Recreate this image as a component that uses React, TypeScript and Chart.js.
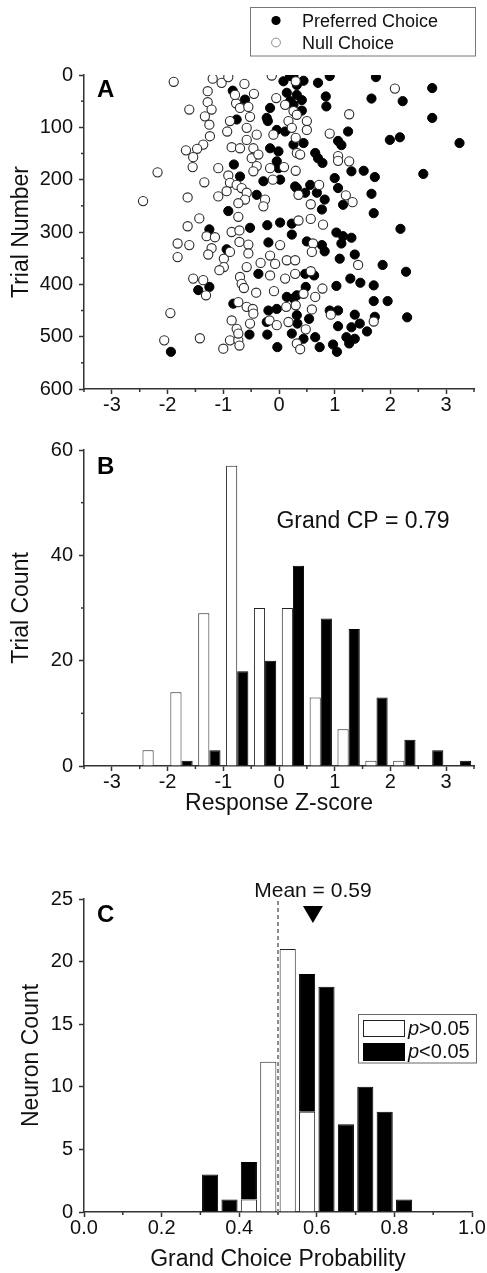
import React, { useEffect, useRef } from 'react';
import { Chart, registerables } from 'chart.js';

Chart.register(...registerables);

const FONT = "'Liberation Sans', Arial, Helvetica, sans-serif";
const AXIS = '#333';
const INK = '#111';

// ---------- Panel A: trial-by-trial z-scores ----------
const prefZ = [
  -0.83, -0.61, -0.76, -0.81, -0.70, -0.40, -0.91, 0.08, 0.20, 0.32, 0.14, 0.32, 0.20, -0.16, -0.22, -0.20, -0.04, 0.11, 0.26, -0.16,
  -0.01, -0.04, -0.01, -0.28, 0.02, 0.29, 0.26, 0.41, 0.44, 0.70, 0.91, 1.74, 1.66, 0.84, 0.85, 2.22, 2.75, 2.75, 1.24, 1.06,
  1.12, 1.99, 2.17, 3.24, 0.65, 0.70, 0.78, 1.30, 1.52, 1.72, 2.59, 1.00, 1.06, 1.66, 1.15, 1.70, 0.68, 0.82, 0.77, 0.56,
  0.32, 0.47, 0.44, 0.26, 0.41, -1.25, -0.94, -1.45, -1.25, -1.94, -0.82, -0.37, -0.19, -0.04, -0.22, -0.53, -0.21, -0.03, -0.52, -0.21,
  -0.19, 0.02, 0.23, 0.23, 0.14, 0.32, 0.23, 0.32, 2.18, 1.03, 1.15, 1.30, 1.12, 0.50, 0.77, 0.82, 1.09, 1.36, 1.86, 2.28,
  1.28, 1.46, 1.70, 1.03, 1.70, 1.95, 2.30, 1.36, 1.45, 1.30, 1.72, 1.06, 0.91, 1.06, 1.58, 1.21, 1.36, 1.26, 0.97, 1.04,
  0.73, 0.54, 0.44, 0.65, 0.33, 0.47, 0.63, 0.48, 0.26,
];
const prefTrial = [
  30, 47, 85, 171, 194, 229, 260, 12, 2, 19, 34, 38, 50, 63, 82, 88, 105, 108, 133, 140,
  146, 165, 178, 203, 200, 213, 1, 48, 11, 15, 2, 4, 45, 41, 60, 50, 25, 82, 108, 126,
  134, 124, 119, 130, 149, 159, 168, 184, 183, 195, 189, 197, 216, 227, 248, 264, 225, 238, 257, 210,
  216, 225, 130, 57, 68, 295, 333, 411, 405, 529, 437, 380, 450, 447, 472, 496, 496, 520, 292, 287,
  320, 282, 305, 284, 424, 421, 494, 459, 294, 301, 308, 311, 322, 318, 325, 337, 351, 343, 363, 376,
  389, 397, 402, 403, 432, 432, 463, 458, 475, 482, 462, 480, 450, 450, 490, 501, 504, 513, 515, 529,
  520, 466, 504, 501, 475, 380, 383, 405, 427,
];
const nullZ = [
  -1.89, -1.61, -2.18, -2.44, -1.64, -1.34, -1.19, -1.03, -0.91, -1.28, -1.28, -1.21, -1.33, -1.25, -1.24, -1.36, -1.47, -1.67, -1.54, -1.55,
  -0.62, -0.77, -0.70, -0.45, -0.88, -0.93, -0.58, -0.40, -0.58, -0.85, -0.70, -0.46, -0.49, -0.37, -0.40, -0.46, -1.09, -0.91, -0.88, -1.09,
  -0.94, -0.76, -0.67, -0.58, -0.61, -0.73, -0.25, -0.28, -0.10, -0.05, -0.13, 0.30, 0.11, 0.26, 0.32, 0.17, 0.23, 0.30, 0.32, -0.16,
  0.09, -0.11, 0.30, -1.43, 2.08, 1.26, 0.91, 1.06, 1.06, 1.26, 0.72, 0.35, 1.20, 1.32, 0.57, 0.38, 0.50, 0.50, -0.79, -0.55, -0.52,
  -1.64, -1.82, -1.61, -1.82, -1.30, -1.15, -1.21, -1.27, -1.54, -1.36, -1.31, -1.95, -2.06, -1.42, -1.00, -0.88, -0.73, -0.71, -0.85, -0.76,
  -0.73, -0.99, -0.99, -1.07, -0.88, -0.85, -0.71, -0.71, -0.73, -0.55, -0.55, -0.58, -0.70, -0.67, -0.63, -0.41, -0.73, -0.58, -0.47, -0.46,
  -0.52, -0.33, -0.16, -0.07, -0.16, 0.02, -0.09, 0.11, 0.14, 0.29, 0.29, 0.13, -0.17, -0.04, 0.17, 0.32, 0.38,
  0.35, 0.57, 0.79, 0.61, 0.59, 1.42, 0.57, 0.78, 0.65, 0.44, 0.30, 0.59, 0.93, 1.70, 0.48,
];
const nullTrial = [
  13, 66, 186, 241, 234, 205, 7, 15, 4, 31, 52, 66, 79, 95, 117, 133, 141, 144, 157, 176,
  17, 54, 63, 36, 88, 108, 101, 114, 124, 138, 140, 140, 159, 152, 174, 184, 178, 192, 206, 232,
  222, 210, 216, 225, 238, 245, 238, 251, 114, 44, 1, 12, 57, 69, 76, 88, 101, 120, 149, 178,
  176, 200, 183, 274, 26, 75, 112, 155, 164, 165, 210, 229, 230, 243, 247, 152, 88, 105, 38, 61, 80,
  289, 322, 325, 348, 308, 310, 331, 343, 389, 392, 421, 455, 507, 503, 523, 507, 507, 517, 469, 485,
  494, 351, 367, 373, 338, 300, 297, 319, 271, 324, 341, 367, 386, 399, 407, 416, 434, 443, 447, 456,
  475, 359, 345, 361, 383, 325, 413, 389, 354, 354, 380, 443, 469, 478, 472, 513, 524,
  278, 275, 286, 322, 338, 363, 375, 408, 424, 418, 440, 448, 458, 471, 486,
];

// ---------- Panel B: histogram of response z-scores ----------
const zBinCenters = [-2.25, -1.75, -1.25, -0.75, -0.25, 0.25, 0.75, 1.25, 1.75, 2.25, 2.75, 3.25];
const nullCounts = [3, 14, 29, 57, 30, 30, 13, 7, 1, 1, 0, 0];
const prefCounts = [0, 1, 3, 18, 20, 38, 28, 26, 13, 5, 3, 1];
const grandCP = 0.79;

// ---------- Panel C: histogram of grand choice probabilities ----------
const cpBinCenters = [0.325, 0.375, 0.425, 0.475, 0.525, 0.575, 0.625, 0.675, 0.725, 0.775, 0.825];
const nonSigCounts = [0, 0, 1, 12, 21, 8, 0, 0, 0, 0, 0];
const sigCounts = [3, 1, 3, 0, 0, 11, 18, 7, 10, 8, 1];
const meanCP = 0.59;
const chanceCP = 0.5;

Chart.defaults.font.family = FONT;
Chart.defaults.color = INK;

type MajorFn = (v: number) => boolean;
const near = (v: number, step: number) => Math.abs(v / step - Math.round(v / step)) < 1e-6;

function minorTicksPlugin(majors: { x?: MajorFn; y?: MajorFn }) {
  return {
    id: 'minorTicks',
    afterDraw(chart: any) {
      const ctx = chart.ctx;
      (['x', 'y'] as const).forEach((id) => {
        const isMajor = majors[id];
        const s = chart.scales[id];
        if (!isMajor || !s) return;
        ctx.save();
        ctx.strokeStyle = AXIS;
        ctx.lineWidth = 1.5;
        s.ticks.forEach((t: any) => {
          if (isMajor(t.value)) return;
          const p = s.getPixelForValue(t.value);
          ctx.beginPath();
          if (s.isHorizontal()) {
            ctx.moveTo(p, s.top);
            ctx.lineTo(p, s.top + 3);
          } else {
            ctx.moveTo(s.right, p);
            ctx.lineTo(s.right - 3, p);
          }
          ctx.stroke();
        });
        ctx.restore();
      });
    },
  };
}

function overlay(draw: (chart: any, ctx: CanvasRenderingContext2D) => void) {
  return {
    id: 'overlay',
    afterDraw(chart: any) {
      const ctx = chart.ctx as CanvasRenderingContext2D;
      ctx.save();
      draw(chart, ctx);
      ctx.restore();
    },
  };
}

function axisBase(isMajor: MajorFn, tickPad: number) {
  return {
    border: { color: AXIS, width: 1.5 },
    grid: {
      drawOnChartArea: false,
      tickLength: 5,
      tickWidth: 1.5,
      tickColor: (c: any) => (c.tick && !isMajor(c.tick.value) ? 'rgba(0,0,0,0)' : AXIS),
    },
    ticks: {
      autoSkip: false,
      maxRotation: 0,
      padding: tickPad,
      color: INK,
      font: { size: 20, family: FONT, lineHeight: 1 },
    },
  };
}

const titleFont = { size: 23, family: FONT, lineHeight: 1.2 };

function configA(): any {
  const xMajor: MajorFn = (v) => near(v, 1);
  const yMajor: MajorFn = (v) => near(v, 100);
  const xb = axisBase(xMajor, 1);
  const yb = axisBase(yMajor, 6);
  return {
    type: 'scatter',
    data: {
      datasets: [
        {
          label: 'Preferred Choice',
          data: prefZ.map((z, i) => ({ x: z, y: prefTrial[i] })),
          backgroundColor: '#000',
          borderColor: '#000',
          borderWidth: 1,
          pointRadius: 4.6,
          order: 1,
        },
        {
          label: 'Null Choice',
          data: nullZ.map((z, i) => ({ x: z, y: nullTrial[i] })),
          backgroundColor: '#fff',
          borderColor: '#2a2a2a',
          borderWidth: 1.1,
          pointRadius: 4.6,
          order: 0,
        },
      ],
    },
    options: {
      animation: false,
      responsive: false,
      devicePixelRatio: 1,
      layout: { padding: { left: 0, right: 13, top: 75, bottom: 0 } },
      plugins: { legend: { display: false }, tooltip: { enabled: false } },
      scales: {
        x: {
          type: 'linear', min: -3.5, max: 3.5,
          afterFit: (s: any) => { s.height = 36; },
          ...xb,
          ticks: { ...xb.ticks, stepSize: 0.5, callback: (v: number) => (xMajor(v) ? String(Math.round(v)) : '') },
        },
        y: {
          type: 'linear', reverse: true, min: 0, max: 600,
          afterFit: (s: any) => { s.width = 84; },
          title: { display: true, text: 'Trial Number', color: INK, font: titleFont, padding: { top: 8, bottom: 0 } },
          ...yb,
          ticks: { ...yb.ticks, stepSize: 50, callback: (v: number) => (yMajor(v) ? String(Math.round(v)) : '') },
        },
      },
    },
    plugins: [
      minorTicksPlugin({ x: xMajor, y: yMajor }),
      overlay((chart, ctx) => {
        ctx.fillStyle = '#000';
        ctx.font = `bold 24px ${FONT}`;
        ctx.textAlign = 'left';
        ctx.textBaseline = 'alphabetic';
        ctx.fillText('A', 97, 97);
        // legend
        ctx.strokeStyle = '#777';
        ctx.lineWidth = 1;
        ctx.strokeRect(250.5, 7.5, 225, 48.5);
        const ds = chart.data.datasets;
        ctx.beginPath();
        ctx.arc(276, 20.5, 4.6, 0, Math.PI * 2);
        ctx.fillStyle = ds[0].backgroundColor;
        ctx.fill();
        ctx.beginPath();
        ctx.arc(276, 42.5, 4.4, 0, Math.PI * 2);
        ctx.fillStyle = '#fff';
        ctx.fill();
        ctx.strokeStyle = '#8a8a8a';
        ctx.lineWidth = 1;
        ctx.stroke();
        ctx.fillStyle = INK;
        ctx.font = `18px ${FONT}`;
        ctx.fillText(ds[0].label, 302, 26.8);
        ctx.fillText(ds[1].label, 302, 49.3);
      }),
    ],
  };
}

function configB(): any {
  const xMajor: MajorFn = (v) => near(v, 1);
  const yMajor: MajorFn = (v) => near(v, 20);
  const xb = axisBase(xMajor, 1);
  const yb = axisBase(yMajor, 6);
  return {
    type: 'bar',
    data: {
      datasets: [
        {
          label: 'Null Choice',
          data: zBinCenters.map((c, i) => ({ x: c, y: nullCounts[i] })),
          backgroundColor: '#fff',
          borderColor: '#222',
          borderWidth: 1,
          categoryPercentage: 0.8,
          barPercentage: 1,
        },
        {
          label: 'Preferred Choice',
          data: zBinCenters.map((c, i) => ({ x: c, y: prefCounts[i] })),
          backgroundColor: '#000',
          borderColor: '#000',
          borderWidth: 1,
          categoryPercentage: 0.8,
          barPercentage: 1,
        },
      ],
    },
    options: {
      animation: false,
      responsive: false,
      devicePixelRatio: 1,
      layout: { padding: { left: 0, right: 13, top: 25, bottom: 0 } },
      plugins: { legend: { display: false }, tooltip: { enabled: false } },
      scales: {
        x: {
          type: 'linear', min: -3.5, max: 3.5, offset: false,
          afterFit: (s: any) => { s.height = 69; },
          title: { display: true, text: 'Response Z-score', color: INK, font: titleFont, padding: { top: 0, bottom: 18 } },
          ...xb,
          grid: { ...xb.grid, offset: false },
          ticks: { ...xb.ticks, stepSize: 0.5, callback: (v: number) => (xMajor(v) ? String(Math.round(v)) : '') },
        },
        y: {
          type: 'linear', min: 0, max: 60,
          afterFit: (s: any) => { s.width = 84; },
          title: { display: true, text: 'Trial Count', color: INK, font: titleFont, padding: { top: 8, bottom: 0 } },
          ...yb,
          ticks: { ...yb.ticks, stepSize: 10, callback: (v: number) => (yMajor(v) ? String(Math.round(v)) : '') },
        },
      },
    },
    plugins: [
      minorTicksPlugin({ x: xMajor, y: yMajor }),
      overlay((chart, ctx) => {
        ctx.fillStyle = '#000';
        ctx.font = `bold 24px ${FONT}`;
        ctx.textAlign = 'left';
        ctx.textBaseline = 'alphabetic';
        ctx.fillText('B', 97, 49);
        ctx.fillStyle = INK;
        ctx.font = `23px ${FONT}`;
        ctx.textAlign = 'center';
        ctx.fillText(`Grand CP = ${grandCP.toFixed(2)}`, 363, 103);
      }),
    ],
  };
}

function configC(): any {
  const xMajor: MajorFn = (v) => near(v, 0.2);
  const yMajor: MajorFn = (v) => near(v, 5);
  const xb = axisBase(xMajor, 1);
  const yb = axisBase(yMajor, 6);
  return {
    type: 'bar',
    data: {
      datasets: [
        {
          label: 'p>0.05',
          data: cpBinCenters.map((c, i) => ({ x: c, y: nonSigCounts[i] })),
          backgroundColor: '#fff',
          borderColor: '#222',
          borderWidth: 1,
          categoryPercentage: 1,
          barPercentage: 0.83,
        },
        {
          label: 'p<0.05',
          data: cpBinCenters.map((c, i) => ({ x: c, y: sigCounts[i] })),
          backgroundColor: '#000',
          borderColor: '#000',
          borderWidth: 1,
          categoryPercentage: 1,
          barPercentage: 0.83,
        },
      ],
    },
    options: {
      animation: false,
      responsive: false,
      devicePixelRatio: 1,
      layout: { padding: { left: 0, right: 15, top: 64, bottom: 0 } },
      plugins: { legend: { display: false }, tooltip: { enabled: false } },
      scales: {
        x: {
          type: 'linear', min: 0, max: 1, offset: false, stacked: true,
          afterFit: (s: any) => { s.height = 61; },
          title: { display: true, text: 'Grand Choice Probability', color: INK, font: titleFont, padding: { top: 0, bottom: 0 } },
          ...xb,
          grid: { ...xb.grid, offset: false },
          ticks: { ...xb.ticks, stepSize: 0.1, callback: (v: number) => (xMajor(v) ? Number(v).toFixed(1) : '') },
        },
        y: {
          type: 'linear', min: 0, max: 25, stacked: true,
          afterFit: (s: any) => { s.width = 84; },
          title: { display: true, text: 'Neuron Count', color: INK, font: titleFont, padding: { top: 18, bottom: 0 } },
          ...yb,
          ticks: { ...yb.ticks, stepSize: 5, callback: (v: number) => String(Math.round(v)) },
        },
      },
    },
    plugins: [
      {
        id: 'chanceLine',
        afterDatasetsDraw(chart: any) {
          const ctx = chart.ctx;
          const { top, bottom } = chart.chartArea;
          const x = chart.scales.x.getPixelForValue(chanceCP);
          ctx.save();
          ctx.strokeStyle = '#8c8c8c';
          ctx.lineWidth = 2;
          ctx.setLineDash([4, 3]);
          ctx.beginPath();
          ctx.moveTo(x, top + 2);
          ctx.lineTo(x, bottom);
          ctx.stroke();
          ctx.restore();
        },
      },
      minorTicksPlugin({ x: xMajor }),
      overlay((chart, ctx) => {
        const top = chart.chartArea.top;
        const mx = chart.scales.x.getPixelForValue(meanCP);
        ctx.fillStyle = '#000';
        ctx.font = `bold 24px ${FONT}`;
        ctx.textAlign = 'left';
        ctx.textBaseline = 'alphabetic';
        ctx.fillText('C', 97, 87);
        // mean marker
        ctx.beginPath();
        ctx.moveTo(mx - 10, top + 7);
        ctx.lineTo(mx + 10, top + 7);
        ctx.lineTo(mx, top + 24);
        ctx.closePath();
        ctx.fill();
        ctx.fillStyle = INK;
        ctx.font = `21px ${FONT}`;
        ctx.textAlign = 'center';
        ctx.fillText(`Mean = ${meanCP.toFixed(2)}`, mx, 62);
        // legend
        ctx.strokeStyle = '#666';
        ctx.lineWidth = 1;
        ctx.strokeRect(358.5, 179.5, 118, 48.5);
        const ds = chart.data.datasets;
        ctx.fillStyle = ds[0].backgroundColor;
        ctx.fillRect(363, 185, 42, 17);
        ctx.strokeStyle = '#222';
        ctx.strokeRect(363.5, 185.5, 41, 16);
        ctx.fillStyle = ds[1].backgroundColor;
        ctx.fillRect(363, 208, 42, 18);
        ctx.textAlign = 'left';
        const drawLab = (label: string, y: number) => {
          ctx.fillStyle = INK;
          ctx.font = `italic 20px ${FONT}`;
          ctx.fillText(label.charAt(0), 408, y);
          const w = ctx.measureText(label.charAt(0)).width;
          ctx.font = `20px ${FONT}`;
          ctx.fillText(label.slice(1), 408 + w, y);
        };
        drawLab(ds[0].label, 200);
        drawLab(ds[1].label, 223);
      }),
    ],
  };
}

export default function App() {
  const aRef = useRef<HTMLCanvasElement>(null);
  const bRef = useRef<HTMLCanvasElement>(null);
  const cRef = useRef<HTMLCanvasElement>(null);

  useEffect(() => {
    const charts = [
      new Chart(aRef.current as HTMLCanvasElement, configA()),
      new Chart(bRef.current as HTMLCanvasElement, configB()),
      new Chart(cRef.current as HTMLCanvasElement, configC()),
    ];
    return () => charts.forEach((c) => c.destroy());
  }, []);

  const cs = (top: number, h: number): React.CSSProperties => ({
    position: 'absolute', left: 0, top, width: 487, height: h, display: 'block',
  });

  return (
    <div style={{ position: 'absolute', left: 0, top: 0, width: 487, height: 1273, background: '#fff' }}>
      <canvas ref={aRef} width={487} height={425} style={cs(0, 425)} />
      <canvas ref={bRef} width={487} height={410} style={cs(425, 410)} />
      <canvas ref={cRef} width={487} height={438} style={cs(835, 438)} />
    </div>
  );
}
